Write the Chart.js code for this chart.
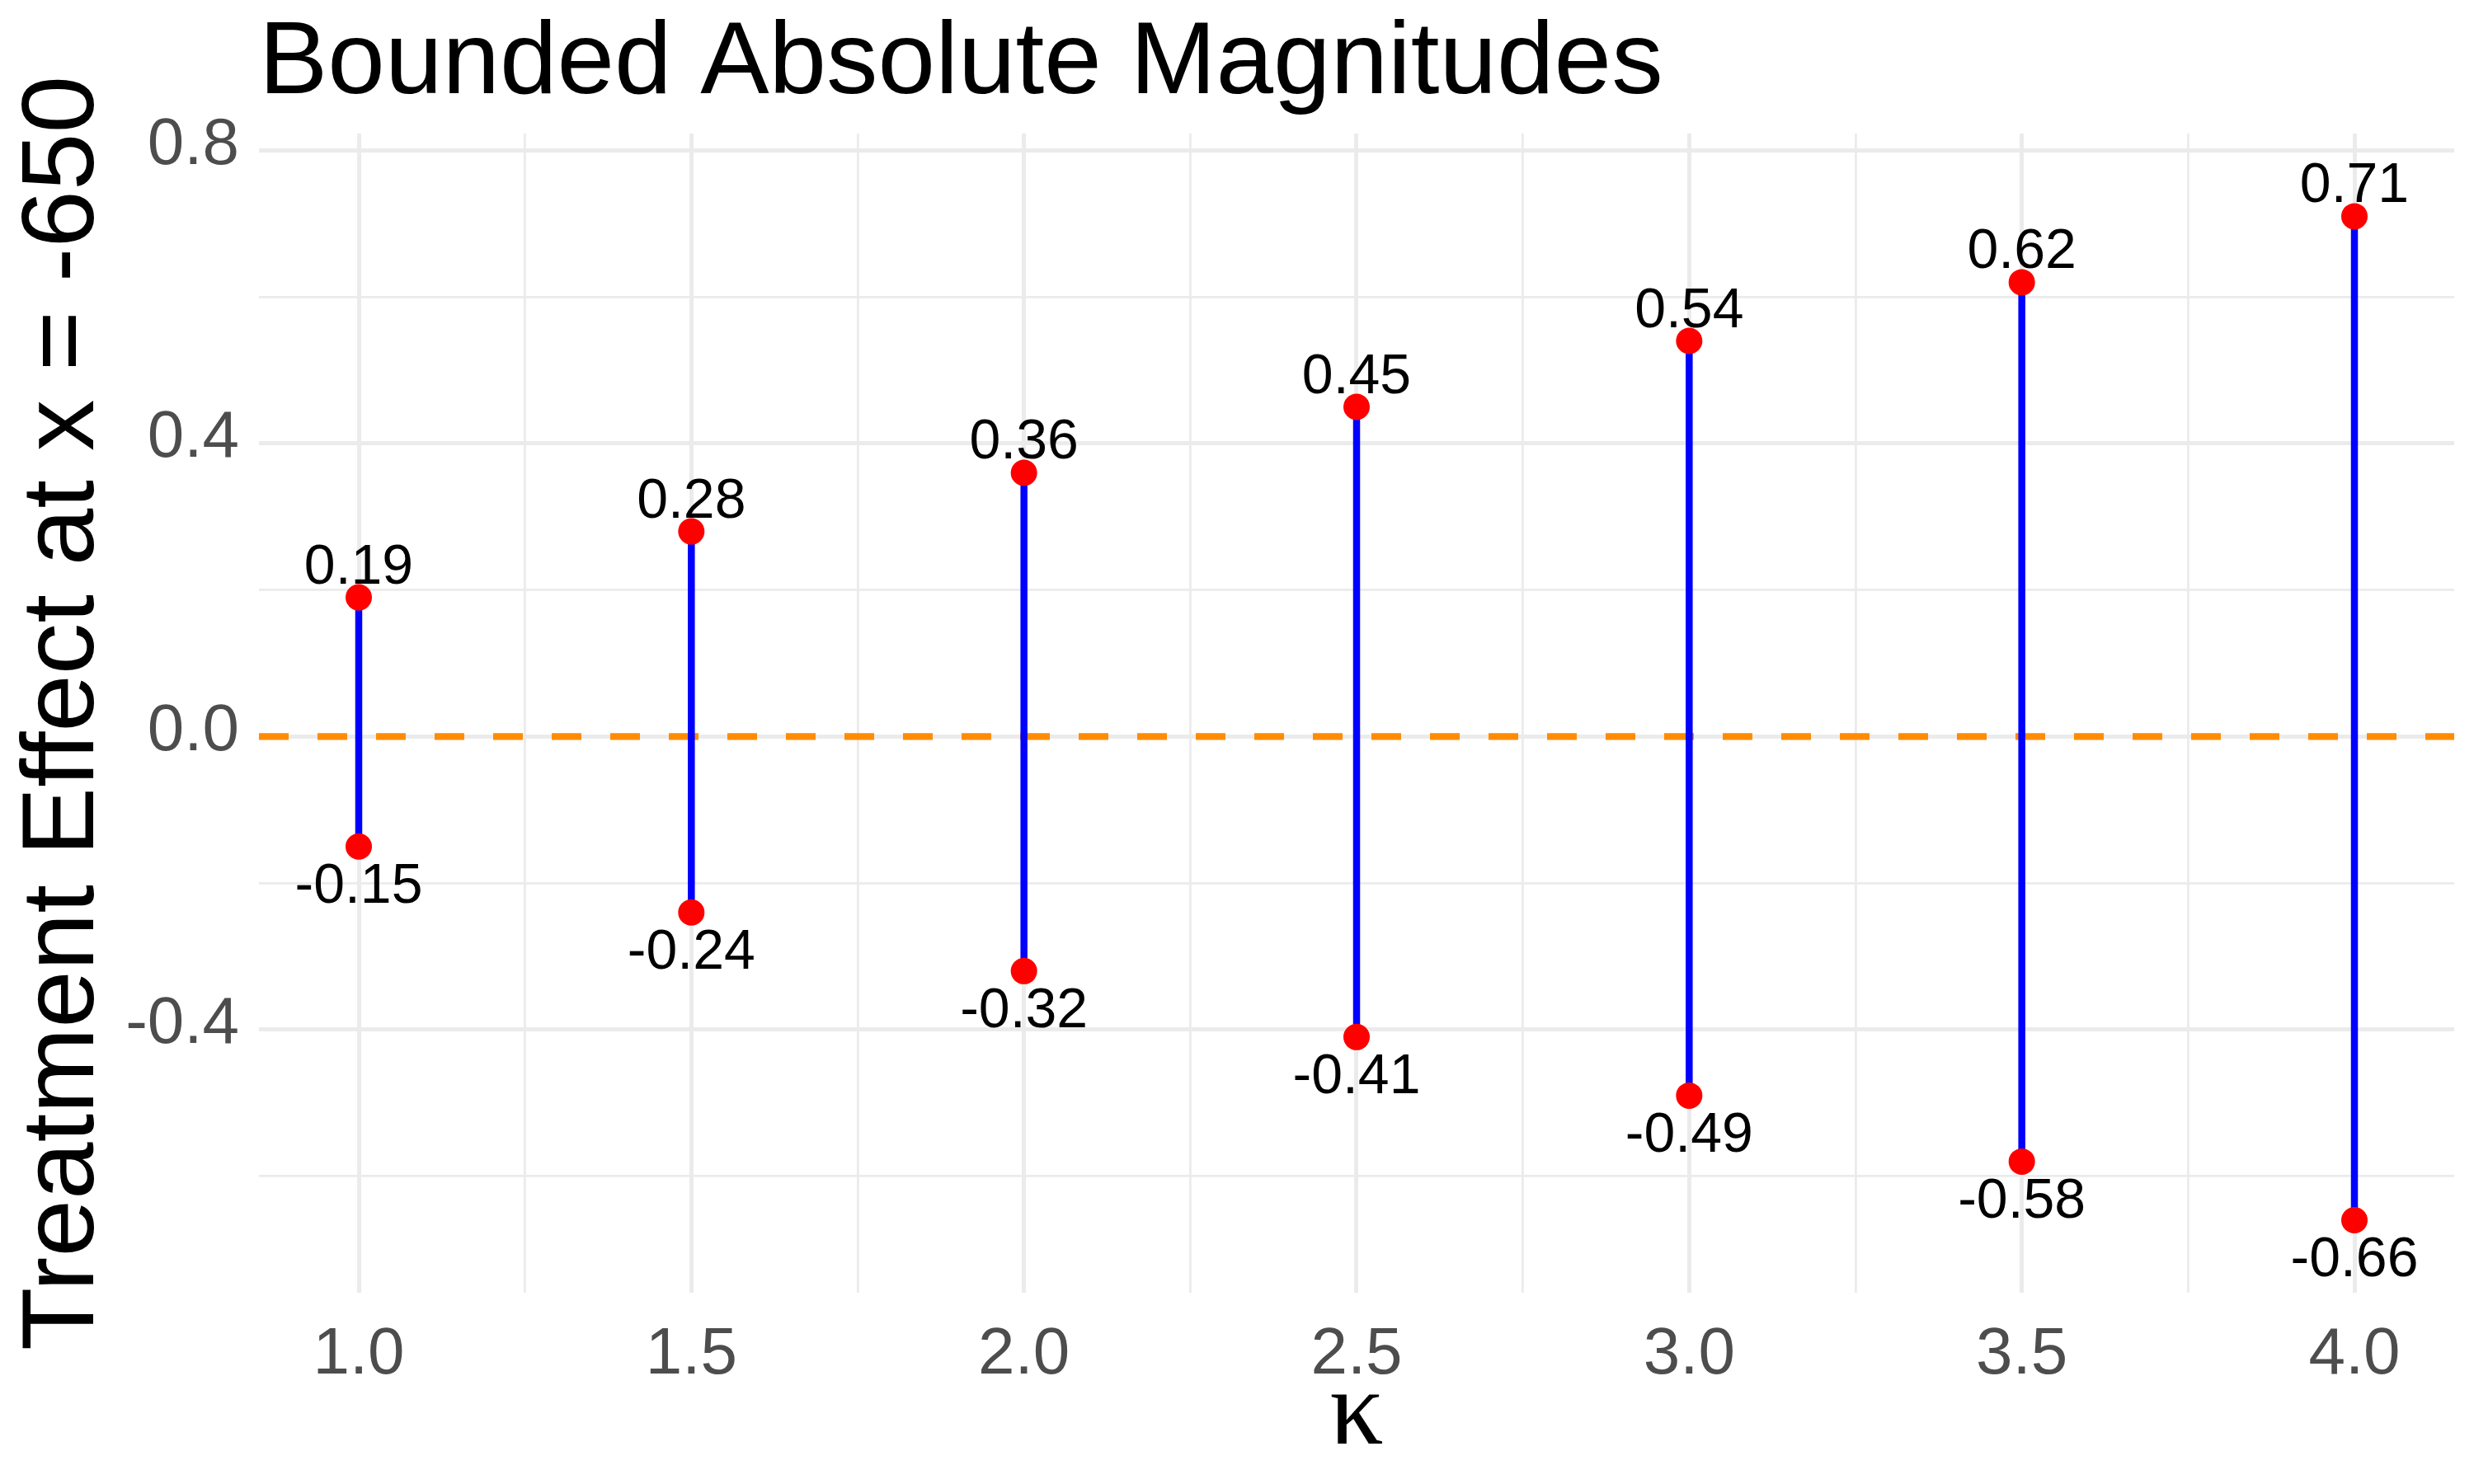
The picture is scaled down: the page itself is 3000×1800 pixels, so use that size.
<!DOCTYPE html>
<html>
<head>
<meta charset="utf-8">
<script src="https://cdn.jsdelivr.net/npm/chart.js@4.4.1/dist/chart.umd.min.js"></script>
<style>
  html, body { margin: 0; padding: 0; background: #fff; }
  canvas { display: block; }
</style>
</head>
<body>
<canvas id="myChart" width="3000" height="1800" style="width:3000px;height:1800px"></canvas>
<script>
// data
const kappa = [1.0, 1.5, 2.0, 2.5, 3.0, 3.5, 4.0];
const upperBound = [0.19, 0.28, 0.36, 0.45, 0.54, 0.62, 0.71];
const lowerBound = [-0.15, -0.24, -0.32, -0.41, -0.49, -0.58, -0.66];
const refLine = 0;

const xMajor = [1.0, 1.5, 2.0, 2.5, 3.0, 3.5, 4.0];
const xMinor = [1.25, 1.75, 2.25, 2.75, 3.25, 3.75];
const yMajor = [-0.4, 0.0, 0.4, 0.8];
const yMinor = [-0.6, -0.2, 0.2, 0.6];

const FONT = "'Liberation Sans', Arial, Helvetica, sans-serif";
const SERIF = "'Liberation Serif', 'DejaVu Serif', serif";
const GRID = '#EBEBEB';

// where the text should land (px on the 3000x1800 canvas)
const PANEL_TOP = 162, PANEL_BOTTOM = 1568, PANEL_LEFT = 314;
const TITLE_BASE = 113, YTITLE_BASE = 113, XTITLE_BASE = 1751, XTICK_TOP = 1602;
const TITLE_SIZE = 125, AXTITLE_SIZE = 125, KAPPA_SIZE = 130, TICK_SIZE = 80;

// measure how canvas baselines sit for these fonts, so the layout does not
// depend on how the browser defines 'middle' / 'top'
const mctx = document.createElement('canvas').getContext('2d');
function ascentWith(font, baseline, s) {
    mctx.font = font;
    mctx.textBaseline = baseline;
    return mctx.measureText(s).actualBoundingBoxAscent;
}
function midToAlpha(font, s) {
    return ascentWith(font, 'alphabetic', s) - ascentWith(font, 'middle', s);
}
const titleOff = midToAlpha(TITLE_SIZE + 'px ' + FONT, 'B');
const yTitleOff = midToAlpha(AXTITLE_SIZE + 'px ' + FONT, 'T');
const kappaOff = midToAlpha(KAPPA_SIZE + 'px ' + SERIF, 'κ');
const tickCap = ascentWith(TICK_SIZE + 'px ' + FONT, 'alphabetic', '0');
const tickMidOff = midToAlpha(TICK_SIZE + 'px ' + FONT, '0');
const tickTopAsc = ascentWith(TICK_SIZE + 'px ' + FONT, 'top', '0');

const titlePadTop = TITLE_BASE - titleOff - TITLE_SIZE / 2;
const titlePadBottom = PANEL_TOP - TITLE_SIZE - titlePadTop;
const yTitlePadTop = YTITLE_BASE - yTitleOff - AXTITLE_SIZE / 2;
const xTitlePadBottom = 1800 - KAPPA_SIZE / 2 - (XTITLE_BASE - kappaOff);
const xTickPad = XTICK_TOP + tickTopAsc - PANEL_BOTTOM;
const yTickShift = tickMidOff - tickCap / 2;

// vertical segments: one line piece per kappa, broken with nulls
const segData = [];
kappa.forEach((k, i) => {
    segData.push({x: k, y: lowerBound[i]});
    segData.push({x: k, y: upperBound[i]});
    segData.push({x: k, y: null});
});
const pointData = [];
kappa.forEach((k, i) => {
    pointData.push({x: k, y: upperBound[i], side: 'up'});
    pointData.push({x: k, y: lowerBound[i], side: 'down'});
});

const isMajor = (list, v) => list.some(m => Math.abs(m - v) < 1e-9);

function setTicks(major, minor) {
    return function(scale) {
        scale.ticks = major.concat(minor).sort((a, b) => a - b).map(v => ({value: v}));
    };
}

const zeroLine = {
    id: 'zeroLine',
    beforeDatasetsDraw(chart) {
        const {ctx, chartArea, scales} = chart;
        const y = scales.y.getPixelForValue(refLine);
        ctx.save();
        ctx.strokeStyle = '#FF8C00';
        ctx.lineWidth = 8.3;
        ctx.setLineDash([36, 35]);
        ctx.beginPath();
        ctx.moveTo(chartArea.left, y);
        ctx.lineTo(chartArea.right, y);
        ctx.stroke();
        ctx.restore();
    }
};

const valueLabels = {
    id: 'valueLabels',
    afterDatasetsDraw(chart) {
        const {ctx, scales} = chart;
        ctx.save();
        ctx.fillStyle = '#000';
        ctx.font = '68px ' + FONT;
        ctx.textAlign = 'center';
        ctx.textBaseline = 'alphabetic';
        pointData.forEach(p => {
            const x = scales.x.getPixelForValue(p.x);
            const y = scales.y.getPixelForValue(p.y);
            const off = p.side === 'up' ? -17 : 68;
            ctx.fillText(p.y.toFixed(2), x, y + off);
        });
        ctx.restore();
    }
};

new Chart(document.getElementById('myChart').getContext('2d'), {
    type: 'scatter',
    data: {
        datasets: [
            {
                data: pointData,
                backgroundColor: '#FF0000',
                borderWidth: 0,
                pointRadius: 16,
                order: 0
            },
            {
                data: segData,
                showLine: true,
                spanGaps: false,
                borderColor: '#0000FF',
                borderWidth: 8.5,
                borderCapStyle: 'butt',
                pointRadius: 0,
                order: 1
            }
        ]
    },
    options: {
        responsive: false,
        devicePixelRatio: 1,
        animation: false,
        layout: { padding: { left: 0, right: 24, top: 0, bottom: 0 } },
        plugins: {
            legend: { display: false },
            tooltip: { enabled: false },
            title: {
                display: true,
                text: 'Bounded Absolute Magnitudes',
                align: 'start',
                fullSize: false,
                color: '#000',
                font: { family: FONT, size: TITLE_SIZE, weight: 'normal', lineHeight: 1 },
                padding: { top: titlePadTop, bottom: titlePadBottom }
            }
        },
        scales: {
            x: {
                type: 'linear',
                min: 0.85,
                max: 4.15,
                afterBuildTicks: setTicks(xMajor, xMinor),
                afterFit(scale) { scale.height = 1800 - PANEL_BOTTOM; },
                border: { display: false },
                grid: {
                    color: GRID,
                    drawTicks: false,
                    lineWidth: ctx => isMajor(xMajor, ctx.tick.value) ? 5 : 2.8
                },
                ticks: {
                    autoSkip: false,
                    maxRotation: 0,
                    padding: xTickPad,
                    color: '#4D4D4D',
                    font: { family: FONT, size: TICK_SIZE },
                    callback: v => isMajor(xMajor, v) ? v.toFixed(1) : ''
                },
                title: {
                    display: true,
                    text: 'κ',
                    color: '#000',
                    font: { family: SERIF, size: KAPPA_SIZE, weight: 'normal', lineHeight: 1 },
                    padding: { top: 0, bottom: xTitlePadBottom }
                }
            },
            y: {
                type: 'linear',
                min: -0.759,
                max: 0.823,
                afterBuildTicks: setTicks(yMajor, yMinor),
                afterFit(scale) { scale.width = PANEL_LEFT; },
                border: { display: false },
                grid: {
                    color: GRID,
                    drawTicks: false,
                    lineWidth: ctx => isMajor(yMajor, ctx.tick.value) ? 5 : 2.8
                },
                ticks: {
                    autoSkip: false,
                    padding: 24,
                    labelOffset: yTickShift,
                    color: '#4D4D4D',
                    font: { family: FONT, size: TICK_SIZE },
                    callback: v => isMajor(yMajor, v) ? v.toFixed(1) : ''
                },
                title: {
                    display: true,
                    text: 'Treatment Effect at x = -650',
                    color: '#000',
                    font: { family: FONT, size: AXTITLE_SIZE, lineHeight: 1 },
                    padding: { top: yTitlePadTop, bottom: 0 }
                }
            }
        }
    },
    plugins: [zeroLine, valueLabels]
});
</script>
</body>
</html>
